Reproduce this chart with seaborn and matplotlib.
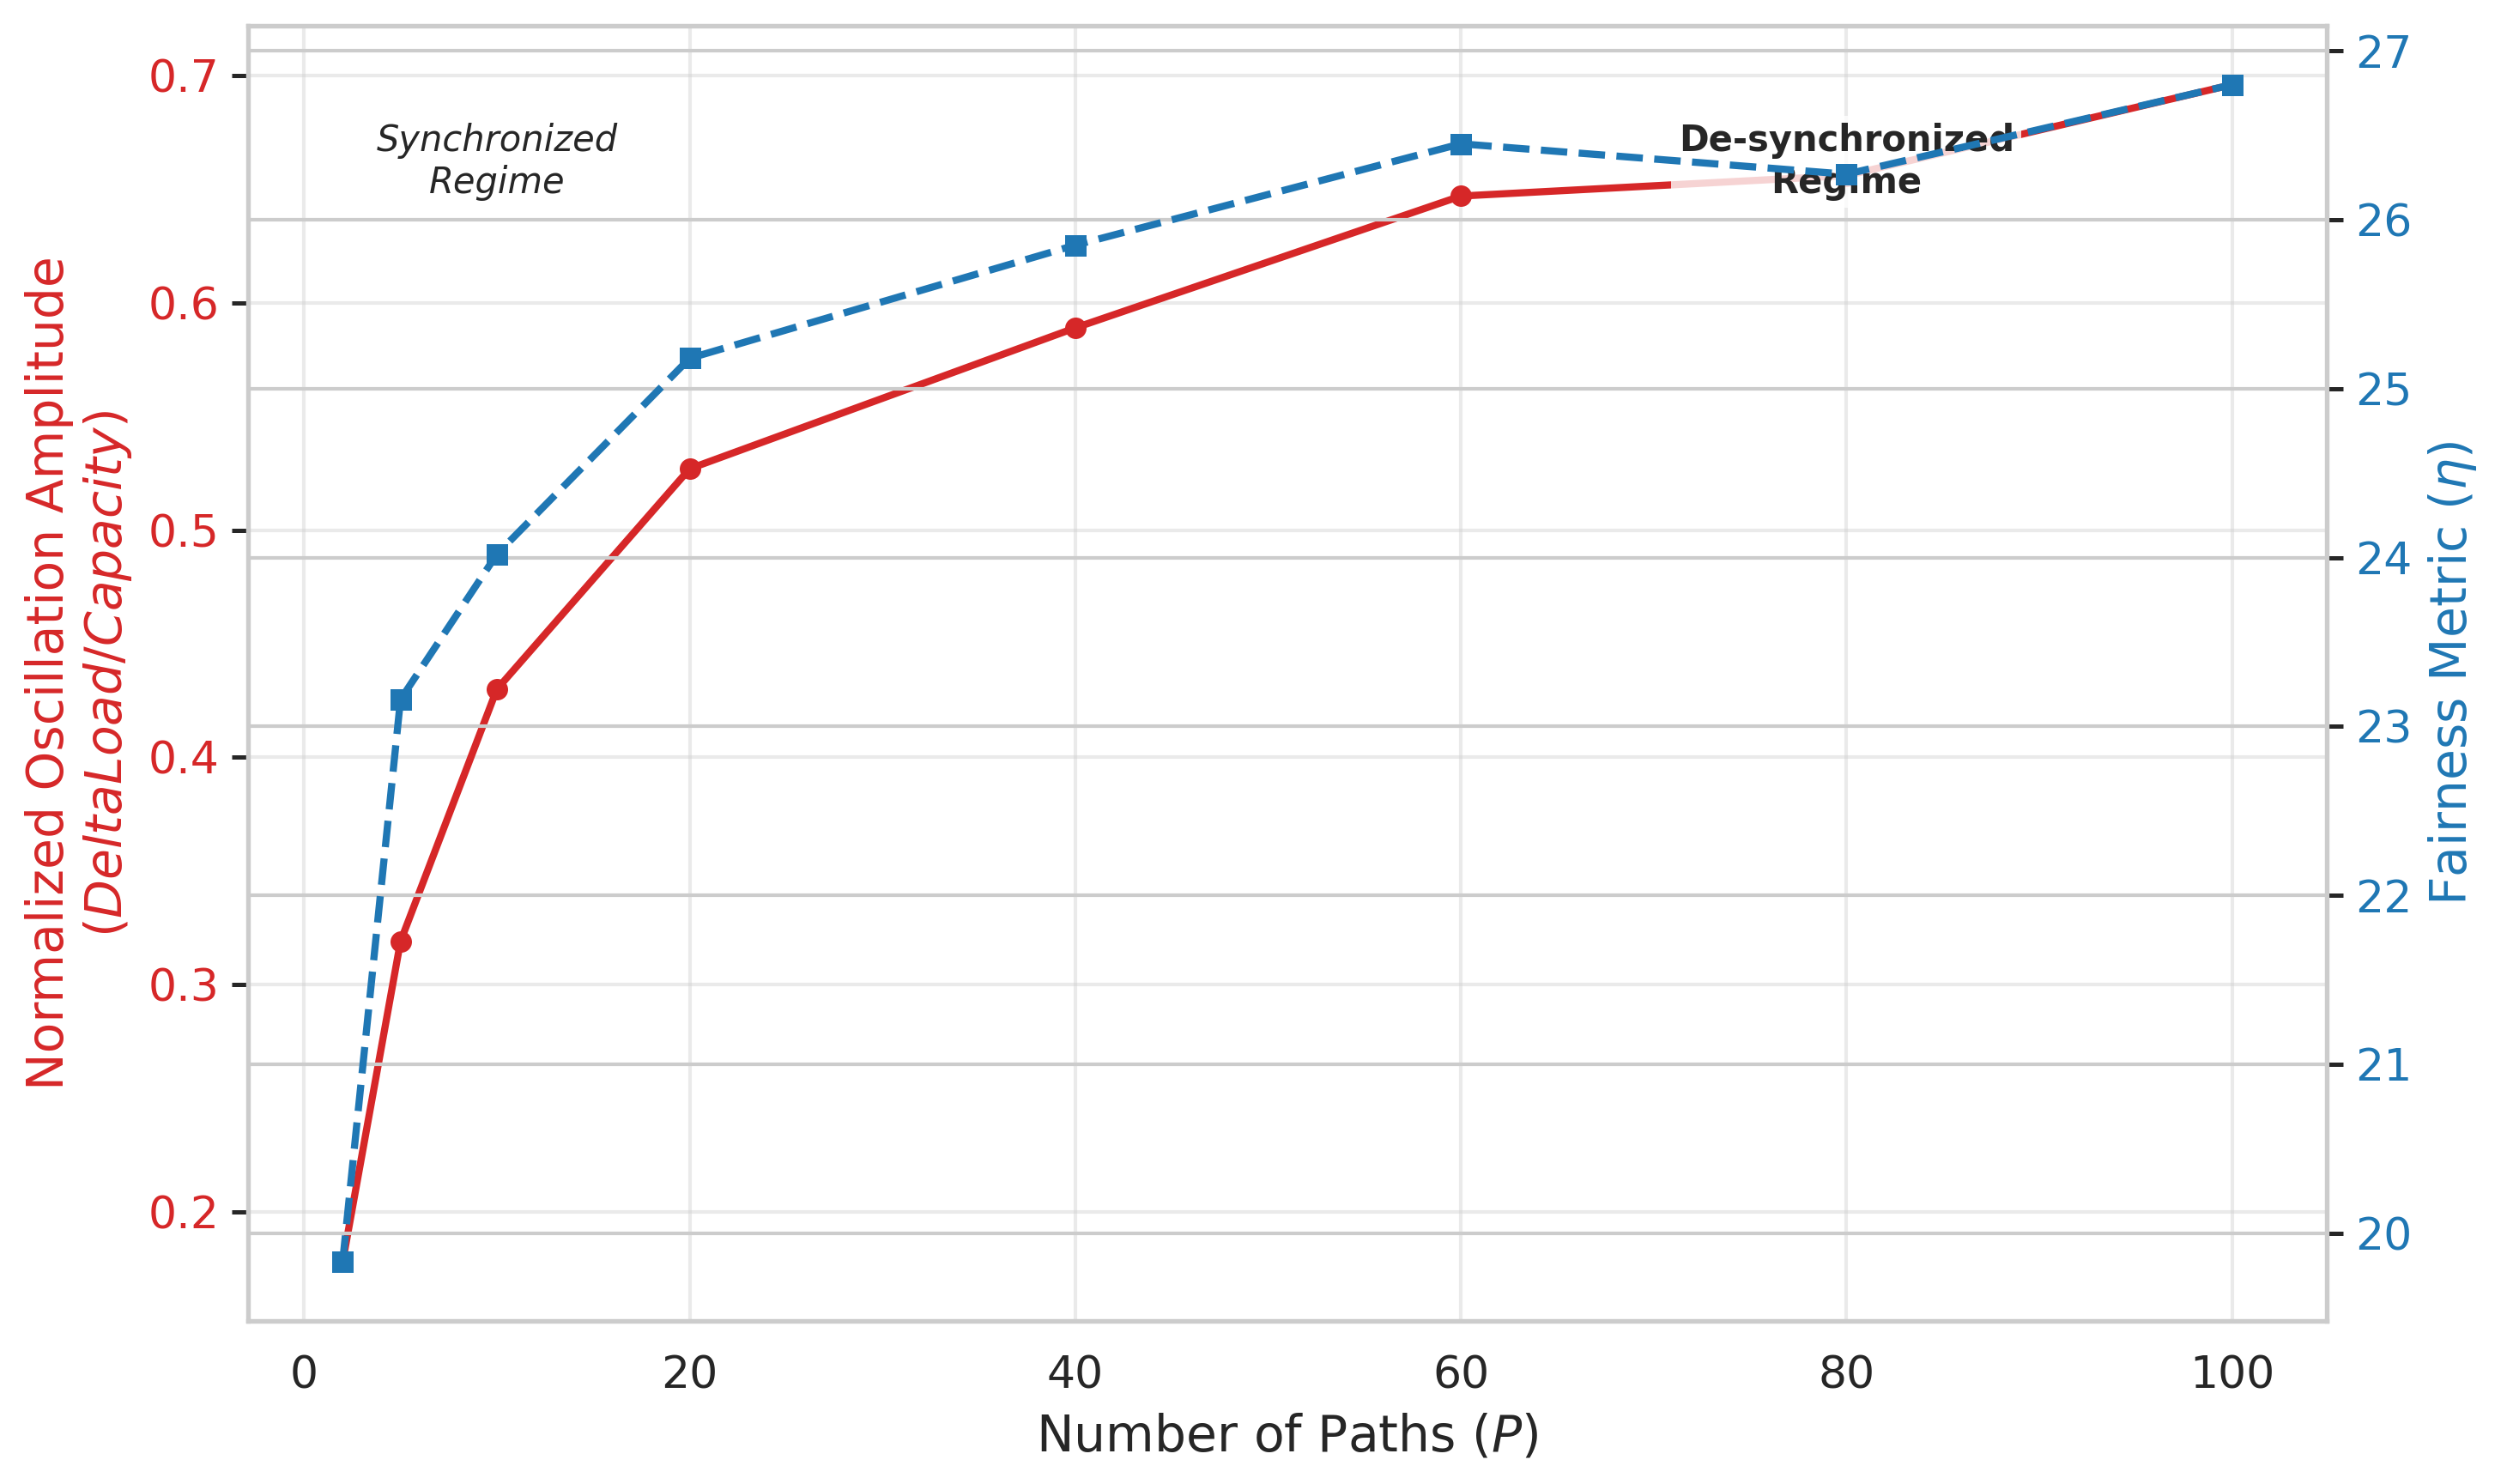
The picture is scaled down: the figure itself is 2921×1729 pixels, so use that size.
import seaborn as sns
import matplotlib.pyplot as plt
import numpy as np
import pandas as pd

# data
paths = [2, 5, 10, 20, 40, 60, 80, 100]
amplitude = [0.178, 0.319, 0.430, 0.527, 0.589, 0.647, 0.656, 0.696]
fairness = [19.83, 23.16, 24.02, 25.18, 25.85, 26.45, 26.27, 26.80]

red = '#d62728'
blue = '#1f77b4'

sns.set_theme(style='whitegrid')

df = pd.DataFrame({'P': paths, 'amp': amplitude, 'fair': fairness})

fig, ax1 = plt.subplots(figsize=(2921 / 300, 1729 / 300), dpi=300)
fig.subplots_adjust(left=0.099, right=0.928, top=0.9826, bottom=0.110)

sns.lineplot(data=df, x='P', y='amp', ax=ax1, color=red, linewidth=2,
             marker='o', markersize=6, markeredgewidth=0)
ax1.set_xlabel('Number of Paths ($P$)', fontsize=14)
ax1.set_ylabel('Normalized Oscillation Amplitude\n($DeltaLoad/Capacity$)',
               fontsize=14, color=red)
ax1.tick_params(axis='y', labelcolor=red, labelsize=12.5, left=True,
                length=4.5, width=1.2, color='#262626')
ax1.tick_params(axis='x', labelsize=12.5)
ax1.grid(True, alpha=0.4)

ax2 = ax1.twinx()
sns.lineplot(data=df, x='P', y='fair', ax=ax2, color=blue, linewidth=2,
             linestyle='--', marker='s', markersize=6, markeredgewidth=0)
ax2.set_ylabel('Fairness Metric ($\\eta$)', fontsize=14, color=blue)
ax2.tick_params(axis='y', labelcolor=blue, labelsize=12.5, right=True,
                length=4.5, width=1.2, color='#262626')

ax1.text(10, 0.662, 'Synchronized\nRegime', ha='center', va='center',
         fontsize=10, style='italic', color='#262626')
ax1.text(80, 0.662, 'De-synchronized\nRegime', ha='center', va='center',
         fontsize=10, fontweight='bold', color='#262626',
         bbox=dict(facecolor='white', alpha=0.8, edgecolor='none', pad=2))

plt.savefig('out.png', dpi=300)
plt.close()
